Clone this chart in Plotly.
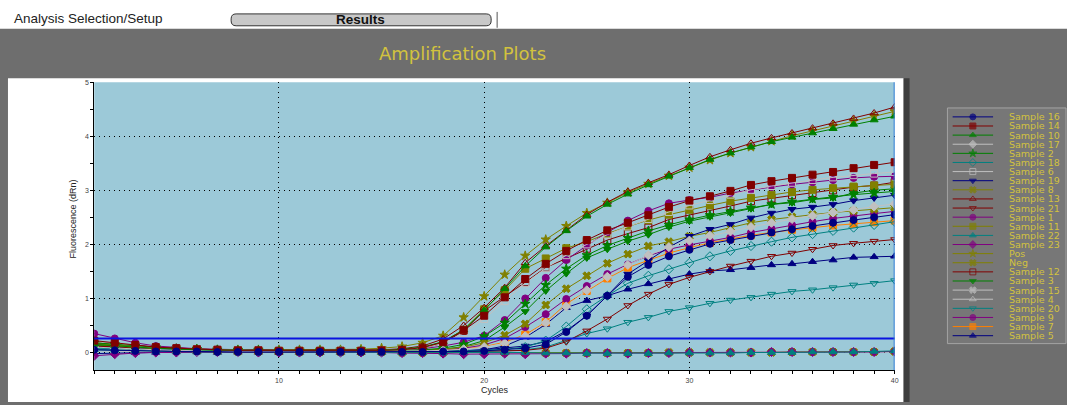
import plotly.graph_objects as go

W, H = 1067, 405
def px(x): return x / W
def py(y): return 1 - y / H

cycles = list(range(1, 41))
threshold = 0.26

s16 = [0.05,0.04,0.03,0.02,0.02,0.02,0.01,0.01,0.01,0.01,0.01,0.01,0.01,0.01,0.01,0.01,
       0.01,0.02,0.02,0.03,0.05,0.08,0.15,0.38,0.68,1.05,1.40,1.62,1.78,1.90,2.01,2.08,
       2.15,2.22,2.28,2.34,2.40,2.45,2.50,2.55]
s14 = [0.22,0.18,0.14,0.10,0.08,0.06,0.05,0.04,0.04,0.03,0.03,0.03,0.03,0.03,0.04,0.05,
       0.09,0.19,0.41,0.68,1.02,1.36,1.64,1.88,2.08,2.26,2.40,2.54,2.69,2.81,2.89,2.99,
       3.10,3.17,3.23,3.29,3.34,3.41,3.47,3.52]
s10 = [0.15,0.12,0.10,0.08,0.06,0.05,0.04,0.04,0.03,0.03,0.03,0.03,0.03,0.03,0.04,0.06,
       0.10,0.20,0.42,0.78,1.18,1.60,1.95,2.25,2.52,2.74,2.93,3.10,3.26,3.42,3.57,3.69,
       3.80,3.90,3.98,4.06,4.14,4.22,4.30,4.37]
s17 = [0.10,0.08,0.06,0.05,0.04,0.03,0.03,0.02,0.02,0.02,0.02,0.02,0.02,0.02,0.02,0.02,
       0.03,0.04,0.06,0.10,0.17,0.30,0.55,0.85,1.15,1.40,1.62,1.80,1.95,2.07,2.16,2.24,
       2.32,2.40,2.47,2.53,2.59,2.64,2.70,2.75]
s2 = [0.18,0.15,0.12,0.09,0.07,0.06,0.05,0.04,0.04,0.03,0.03,0.03,0.03,0.03,0.03,0.04,
      0.05,0.08,0.15,0.30,0.55,0.90,1.25,1.55,1.80,1.98,2.12,2.25,2.36,2.46,2.54,2.61,
      2.68,2.74,2.79,2.84,2.88,2.92,2.95,2.98]
s18 = [0.08,0.07,0.06,0.05,0.04,0.03,0.03,0.02,0.02,0.02,0.02,0.02,0.02,0.02,0.02,0.02,
       0.02,0.02,0.03,0.04,0.06,0.10,0.22,0.48,0.80,1.05,1.28,1.42,1.54,1.66,1.78,1.88,
       1.97,2.05,2.13,2.19,2.25,2.31,2.36,2.42]
s6 = [0.20,0.16,0.12,0.09,0.07,0.06,0.05,0.04,0.04,0.03,0.03,0.03,0.03,0.03,0.04,0.05,
      0.08,0.17,0.36,0.62,0.95,1.28,1.56,1.80,2.00,2.18,2.33,2.47,2.60,2.72,2.82,2.92,
      3.01,3.08,3.14,3.19,3.24,3.28,3.31,3.34]
s19 = [0.10,0.08,0.06,0.05,0.04,0.03,0.03,0.02,0.02,0.02,0.02,0.02,0.02,0.02,0.02,0.02,
       0.02,0.03,0.03,0.05,0.08,0.12,0.20,0.40,0.68,1.05,1.45,1.70,1.95,2.15,2.28,2.37,
       2.49,2.58,2.65,2.69,2.74,2.81,2.86,2.91]
s8 = [0.15,0.12,0.09,0.07,0.06,0.05,0.04,0.04,0.03,0.03,0.03,0.03,0.03,0.03,0.03,0.03,
      0.04,0.06,0.10,0.18,0.32,0.53,0.88,1.18,1.42,1.65,1.82,1.97,2.05,2.15,2.22,2.31,
      2.40,2.46,2.51,2.55,2.59,2.62,2.65,2.68]
s13 = [0.20,0.16,0.13,0.10,0.08,0.06,0.05,0.05,0.04,0.04,0.04,0.04,0.04,0.04,0.05,0.07,
       0.12,0.25,0.50,0.83,1.20,1.66,1.97,2.26,2.55,2.78,2.98,3.14,3.29,3.46,3.62,3.75,
       3.87,3.97,4.06,4.15,4.24,4.33,4.43,4.54]
s21 = [0.12,0.10,0.08,0.06,0.05,0.04,0.03,0.03,0.02,0.02,0.02,0.02,0.02,0.02,0.02,0.02,
       0.02,0.02,0.02,0.03,0.03,0.04,0.08,0.20,0.40,0.62,0.87,1.08,1.26,1.39,1.50,1.60,
       1.69,1.78,1.84,1.91,1.98,2.02,2.06,2.09]
s1 = [0.35,0.26,0.18,0.12,0.09,0.07,0.06,0.05,0.04,0.04,0.04,0.04,0.04,0.04,0.04,0.05,
      0.07,0.12,0.19,0.31,0.60,1.00,1.38,1.71,1.98,2.22,2.44,2.62,2.76,2.82,2.87,2.95,
      3.01,3.06,3.11,3.15,3.19,3.23,3.25,3.26]
s11 = [0.16,0.13,0.10,0.08,0.06,0.05,0.04,0.04,0.03,0.03,0.03,0.03,0.03,0.03,0.04,0.05,
       0.09,0.20,0.42,0.80,1.15,1.55,1.74,1.93,2.05,2.20,2.33,2.45,2.55,2.64,2.72,2.80,
       2.86,2.92,2.97,3.01,3.04,3.07,3.09,3.11]
s22 = [0.05,0.04,0.03,0.02,0.02,0.01,0.01,0.01,0.01,0.00,0.00,0.00,0.00,0.00,0.00,0.00,
       0.00,0.00,0.01,0.01,0.00,0.00,-0.01,-0.01,-0.02,-0.02,-0.02,-0.02,-0.01,-0.01,-0.01,-0.01,
       0.00,0.00,0.00,0.01,0.01,0.01,0.02,0.03]
s23 = [-0.06,-0.03,-0.01,0.00,0.00,0.01,0.01,0.01,0.00,0.00,0.00,0.00,0.00,0.00,0.00,-0.01,
       -0.01,-0.02,-0.03,-0.03,-0.02,-0.03,-0.02,-0.02,-0.01,-0.01,-0.02,-0.01,-0.01,0.00,0.00,0.00,
       0.00,0.01,0.01,0.01,0.01,0.01,0.01,0.02]
pos = [0.17,0.14,0.11,0.09,0.07,0.06,0.05,0.05,0.05,0.05,0.05,0.05,0.05,0.06,0.08,0.11,
       0.18,0.31,0.65,1.04,1.44,1.79,2.09,2.34,2.58,2.77,2.96,3.12,3.27,3.42,3.56,3.69,
       3.80,3.91,4.01,4.10,4.19,4.28,4.37,4.46]
neg = [0.10,0.08,0.06,0.05,0.04,0.03,0.03,0.02,0.02,0.02,0.01,0.01,0.01,0.01,0.01,0.00,
       0.00,0.00,0.00,0.00,0.00,-0.01,-0.01,-0.01,-0.01,-0.01,-0.01,-0.01,0.00,0.00,0.00,0.00,
       0.00,0.00,0.01,0.01,0.01,0.01,0.01,0.02]
s12 = [0.18,0.15,0.12,0.09,0.07,0.06,0.05,0.04,0.04,0.03,0.03,0.03,0.03,0.03,0.04,0.05,
       0.08,0.17,0.40,0.77,1.03,1.30,1.57,1.74,1.92,2.08,2.20,2.31,2.46,2.54,2.62,2.71,
       2.80,2.85,2.91,2.95,3.00,3.06,3.09,3.15]
s3 = [0.14,0.11,0.09,0.07,0.06,0.05,0.04,0.04,0.03,0.03,0.03,0.03,0.03,0.03,0.03,0.03,
      0.04,0.06,0.11,0.22,0.47,0.76,1.14,1.46,1.75,1.91,2.06,2.18,2.32,2.43,2.51,2.58,
      2.66,2.74,2.77,2.83,2.86,2.95,3.00,3.03]
s15 = [0.08,0.06,0.05,0.04,0.03,0.03,0.02,0.02,0.02,0.01,0.01,0.01,0.01,0.01,0.01,0.01,
       0.01,0.01,0.00,0.00,0.00,0.00,0.00,0.00,-0.01,-0.01,-0.01,0.00,0.00,0.00,0.00,0.00,
       0.01,0.01,0.01,0.01,0.01,0.02,0.02,0.02]
s4 = [0.03,0.02,0.02,0.01,0.01,0.01,0.01,0.00,0.00,0.00,0.00,0.00,0.00,0.00,0.00,0.00,
      0.00,-0.01,-0.01,-0.01,-0.02,-0.02,-0.02,-0.02,-0.02,-0.02,-0.01,-0.01,-0.01,-0.01,0.00,0.00,
      0.00,0.00,0.00,0.00,0.01,0.01,0.01,0.01]
s20 = [0.06,0.05,0.04,0.03,0.03,0.02,0.02,0.02,0.02,0.01,0.01,0.01,0.01,0.01,0.01,0.01,
       0.01,0.01,0.02,0.02,0.03,0.05,0.10,0.22,0.35,0.44,0.56,0.65,0.76,0.83,0.91,0.97,
       1.02,1.08,1.13,1.16,1.20,1.25,1.28,1.33]
s9 = [0.12,0.10,0.08,0.06,0.05,0.04,0.04,0.03,0.03,0.03,0.03,0.03,0.03,0.03,0.03,0.03,
      0.04,0.05,0.08,0.14,0.26,0.47,0.71,0.99,1.23,1.45,1.63,1.79,1.91,1.99,2.06,2.13,
      2.22,2.29,2.36,2.42,2.48,2.53,2.57,2.61]
s7 = [0.14,0.11,0.09,0.07,0.06,0.05,0.04,0.04,0.03,0.03,0.03,0.03,0.03,0.03,0.03,0.03,
      0.04,0.05,0.07,0.11,0.19,0.33,0.56,0.90,1.14,1.37,1.57,1.71,1.84,1.94,2.03,2.10,
      2.17,2.22,2.27,2.31,2.35,2.38,2.41,2.44]
s5 = [-0.02,-0.01,0.00,0.00,0.01,0.01,0.00,0.00,0.00,0.00,0.00,0.00,0.00,0.00,0.00,0.00,
      0.01,0.02,0.03,0.05,0.12,0.28,0.52,0.83,0.96,1.05,1.17,1.27,1.36,1.45,1.51,1.53,
      1.57,1.62,1.64,1.68,1.71,1.76,1.77,1.78]

legend_names = ["Sample 16","Sample 14","Sample 10","Sample 17","Sample 2","Sample 18",
                "Sample 6","Sample 19","Sample 8","Sample 13","Sample 21","Sample 1",
                "Sample 11","Sample 22","Sample 23","Pos","Neg","Sample 12","Sample 3",
                "Sample 15","Sample 4","Sample 20","Sample 9","Sample 7","Sample 5"]
series = [s16,s14,s10,s17,s2,s18,s6,s19,s8,s13,s21,s1,s11,s22,s23,pos,neg,s12,s3,
          s15,s4,s20,s9,s7,s5]

NAVY, DRED, GRN, LGR, TEAL, OLV, PUR, ORG = ("#000080", "#800000", "#008000", "#c0c0c0",
                                            "#008080", "#808000", "#800080", "#ff8000")
styles = [(NAVY,"circle"),(DRED,"square"),(GRN,"triangle-up"),(LGR,"diamond"),
          (GRN,"star"),(TEAL,"diamond-open"),(LGR,"square-open"),(NAVY,"triangle-down"),
          (OLV,"x"),(DRED,"triangle-up-open"),(DRED,"triangle-down-open"),(PUR,"circle"),
          (OLV,"square"),(TEAL,"triangle-up"),(PUR,"diamond"),(OLV,"star"),(OLV,"x"),
          (DRED,"square-open"),(GRN,"triangle-down"),(LGR,"x"),(LGR,"triangle-up-open"),
          (TEAL,"triangle-down-open"),(PUR,"circle"),(ORG,"square"),(NAVY,"triangle-up")]

FONT = "Liberation Sans, Arial, sans-serif"
WIDE = "DejaVu Sans, Verdana, sans-serif"
YEL = "#d2c23e"
fig = go.Figure()

# main curves (draw in reverse legend order so the first entries sit on top)
for name, vals, (col, sym) in reversed(list(zip(legend_names, series, styles))):
    fig.add_trace(go.Scatter(
        x=cycles, y=vals, mode="lines+markers", name=name, showlegend=False,
        line=dict(color=col, width=1),
        marker=dict(color=col, symbol=sym, size=7, line=dict(color=col, width=1)),
        xaxis="x", yaxis="y"))

# custom legend drawn on its own small axes
for i, (name, (col, sym)) in enumerate(zip(legend_names, styles)):
    fig.add_trace(go.Scatter(
        x=[0, 0.5, 1], y=[i, i, i], mode="lines+markers", showlegend=False,
        hoverinfo="skip", line=dict(color=col, width=1),
        marker=dict(color=col, symbol=sym, size=[0, 6, 0], line=dict(color=col, width=1)),
        xaxis="x2", yaxis="y2"))

annotations = [
    dict(text=name, x=px(1011), y=i, xref="paper", yref="y2", xanchor="left",
         yanchor="middle", showarrow=False, font=dict(family=WIDE, size=9.5, color=YEL))
    for i, name in enumerate(legend_names)
]
annotations += [
    dict(text="Analysis Selection/Setup", x=px(12), y=py(15), xref="paper", yref="paper",
         xanchor="left", yanchor="middle", showarrow=False,
         font=dict(family=FONT, size=13.5, color="#222222")),
    dict(text="<b>Results</b>", x=px(362), y=py(16), xref="paper", yref="paper",
         xanchor="center", yanchor="middle", showarrow=False,
         font=dict(family=FONT, size=13.5, color="#111111")),
    dict(text="Amplification Plots", x=px(464), y=py(50), xref="paper", yref="paper",
         xanchor="center", yanchor="middle", showarrow=False,
         font=dict(family=WIDE, size=18, color=YEL)),
    dict(text="Fluorescence (dRn)", x=px(73), y=py(217), xref="paper", yref="paper",
         xanchor="center", yanchor="middle", textangle=-90, showarrow=False,
         font=dict(family=FONT, size=9, color="#222222")),
    dict(text="Cycles", x=px(497), y=py(390), xref="paper", yref="paper",
         xanchor="center", yanchor="middle", showarrow=False,
         font=dict(family=FONT, size=9, color="#222222")),
]

def rounded_button(x0, x1, y0, y1, r):
    pts = [
        f"M {px(x0 + r)} {py(y0)}", f"L {px(x1 - r)} {py(y0)}",
        f"Q {px(x1)} {py(y0)} {px(x1)} {py(y0 + r)}", f"L {px(x1)} {py(y1 - r)}",
        f"Q {px(x1)} {py(y1)} {px(x1 - r)} {py(y1)}", f"L {px(x0 + r)} {py(y1)}",
        f"Q {px(x0)} {py(y1)} {px(x0)} {py(y1 - r)}", f"L {px(x0)} {py(y0 + r)}",
        f"Q {px(x0)} {py(y0)} {px(x0 + r)} {py(y0)}", "Z",
    ]
    return " ".join(pts)

shapes = [
    dict(type="rect", xref="paper", yref="paper", x0=-0.01, x1=1.01, y0=py(25), y1=1.05,
         fillcolor="white", line=dict(width=0), layer="below"),
    dict(type="path", xref="paper", yref="paper", path=rounded_button(232, 493, 10, 22, 5),
         fillcolor="#c8c8c8", line=dict(color="#333333", width=1), layer="below"),
    dict(type="line", xref="paper", yref="paper", x0=px(499), x1=px(499), y0=py(24), y1=py(8),
         line=dict(color="#555555", width=1), layer="below"),
    dict(type="rect", xref="paper", yref="paper", x0=px(8), x1=px(907), y0=py(402), y1=py(75),
         fillcolor="white", line=dict(width=0), layer="below"),
    dict(type="rect", xref="paper", yref="paper", x0=px(907), x1=px(913), y0=py(402), y1=py(75),
         fillcolor="#3e3e3e", line=dict(width=0), layer="below"),
    dict(type="rect", xref="paper", yref="paper", x0=px(951), x1=px(1070), y0=py(343), y1=py(105),
         fillcolor="#777777", line=dict(color="#a4a4a4", width=1), layer="below"),
    dict(type="rect", xref="x domain", yref="y domain", x0=0, x1=1, y0=0, y1=1,
         fillcolor="#9cc9d8", line=dict(width=0), layer="below"),
    dict(type="line", xref="x domain", yref="y", x0=0, x1=1, y0=threshold, y1=threshold,
         line=dict(color="#0a14e0", width=2), layer="above"),
    dict(type="line", xref="x", yref="y domain", x0=40, x1=40, y0=0, y1=1,
         line=dict(color="#3a80d8", width=2), layer="above"),
]

tickfont = dict(family=FONT, size=7, color="#444444")
fig.update_layout(
    width=W, height=H, margin=dict(l=0, r=0, t=0, b=0),
    paper_bgcolor="#6e6e6e", plot_bgcolor="rgba(0,0,0,0)",
    shapes=shapes, annotations=annotations,
    xaxis=dict(domain=[px(94.6), px(898)], range=[1, 40], tick0=0, dtick=10,
               showgrid=True, gridcolor="black", gridwidth=1, griddash="1px,4px",
               zeroline=False, showline=True, linecolor="black", linewidth=1,
               ticks="outside", ticklen=3, tickcolor="black", tickfont=tickfont,
               minor=dict(dtick=1, ticks="outside", ticklen=3, tickcolor="black", showgrid=False),
               anchor="y"),
    yaxis=dict(domain=[py(370), py(79)], range=[-0.33, 5], tick0=0, dtick=1,
               showgrid=True, gridcolor="black", gridwidth=1, griddash="1px,4px",
               zeroline=False, showline=True, linecolor="black", linewidth=1,
               ticks="outside", ticklen=3, tickcolor="black", tickfont=tickfont,
               minor=dict(dtick=0.5, ticks="outside", ticklen=3, tickcolor="black", showgrid=False),
               anchor="x"),
    xaxis2=dict(domain=[px(956), px(997)], range=[0, 1], visible=False, anchor="y2"),
    yaxis2=dict(domain=[py(339.6), py(109.4)], range=[24.5, -0.5], visible=False, anchor="x2"),
)

fig.write_html("out.html", config={"displayModeBar": False},
               post_script="document.body.style.margin='0px';"
               "document.body.style.overflow='hidden';")
